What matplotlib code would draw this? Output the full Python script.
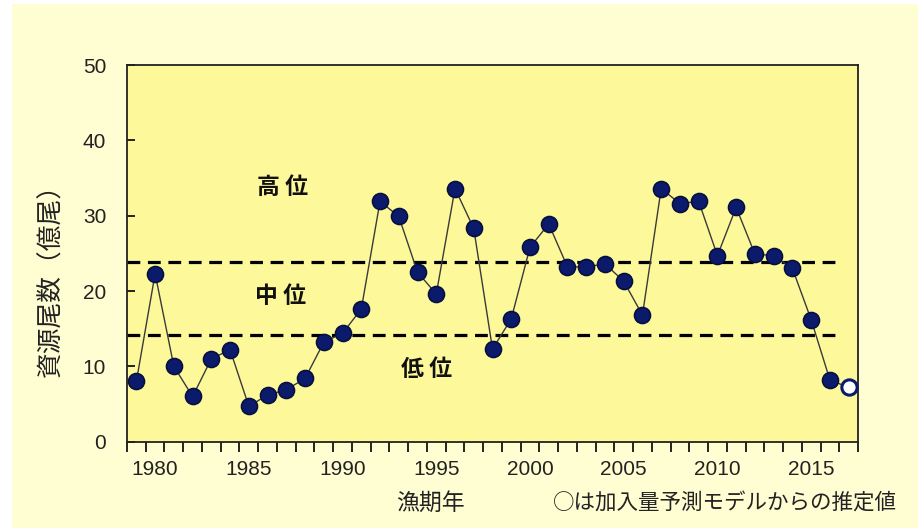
import numpy as np
import matplotlib
matplotlib.use("Agg")
import matplotlib.pyplot as plt
from matplotlib.patches import Rectangle

plt.rcParams['font.family'] = ['Liberation Sans Narrow', 'Liberation Sans',
                               'Noto Sans CJK JP', 'DejaVu Sans']

# 漁期年と資源尾数（億尾）
years = list(range(1979, 2018))
stock = [8.0, 22.3, 10.0, 6.0, 11.0, 12.2, 4.7, 6.2, 6.9, 8.4,
         13.2, 14.4, 17.6, 31.9, 29.9, 22.5, 19.6, 33.6, 28.3, 12.3,
         16.3, 25.8, 28.9, 23.2, 23.2, 23.6, 21.3, 16.8, 33.6, 31.6,
         31.9, 24.7, 31.1, 24.9, 24.7, 23.0, 16.2, 8.2, 7.2]
est_year = [2017]          # 加入量予測モデルからの推定値
est_value = [7.2]

high_mid = 23.8            # 高位/中位の境界
mid_low = 14.1             # 中位/低位の境界
level_names = ['高 位', '中 位', '低 位']
level_x = [1986.8, 1986.7, 1994.5]
level_y = [33.7, 19.3, 9.6]

xticks = [1980, 1985, 1990, 1995, 2000, 2005, 2010, 2015]
yticks = [0, 10, 20, 30, 40, 50]

fig = plt.figure(figsize=(9.18, 5.28), dpi=100, facecolor='white')
fig.patches.append(Rectangle((12/918, 0), 1, 1 - 4/528, transform=fig.transFigure,
                             facecolor='#FFFDD2', edgecolor='none', zorder=-10))

ax = fig.add_axes([127/918, 1 - 441.7/528, 731/918, 376.7/528])
ax.set_facecolor('#FDF89A')

xmin, xmax = years[0] - 0.5, years[-1] + 0.5
ax.set_xlim(xmin, xmax)
ax.set_ylim(0, 50)

# 境界の破線
for yv in [high_mid, mid_low]:
    ax.plot([xmin, 2016.3], [yv, yv], color='black', lw=2.3,
            dashes=(4, 2.4), zorder=2)

ax.plot(years, stock, color='#3a3a3a', lw=1.0, zorder=3)
ax.plot(years[:-1], stock[:-1], 'o', ms=11.5, mfc='#0B1A6B', mec='#06103F',
        mew=1.2, zorder=4)
ax.plot(est_year, est_value, 'o', ms=11, mfc='white', mec='#0B1A6B',
        mew=2.2, zorder=5)

for name, lx, ly in zip(level_names, level_x, level_y):
    ax.text(lx, ly, name, ha='center', va='center', fontsize=16.5,
            fontweight='bold', family=['Noto Sans CJK JP'], color='#111111')

# 軸と目盛り
for s in ax.spines.values():
    s.set_linewidth(1.3)
    s.set_color('#222222')
ax.set_yticks(yticks)
ax.tick_params(axis='y', direction='in', length=6, width=1.2, pad=15,
               labelsize=15, left=True, labelcolor='#222222')
ax.set_xticks(np.arange(xmin, xmax + 0.01, 1.0), minor=False)
ax.set_xticklabels([])
ax.tick_params(axis='x', which='major', direction='out', length=7, width=1.2)
ax.set_xticks(xticks, minor=True)
ax.set_xticklabels([str(x) for x in xticks], minor=True)
ax.tick_params(axis='x', which='minor', length=0, pad=13, labelsize=15,
               labelcolor='#222222')

fig.text(51/918, 1 - 274/528, '資源尾数（億尾）', rotation=90, ha='center',
         va='center', fontsize=18.5, family=['Noto Sans CJK JP'], color='#222222')
fig.text(430/918, 1 - 503/528, '漁期年', ha='center', va='center',
         fontsize=16.5, family=['Noto Sans CJK JP'], color='#222222')
fig.text(725/918, 1 - 503/528, '○は加入量予測モデルからの推定値', ha='center',
         va='center', fontsize=15.5, family=['Noto Sans CJK JP'], color='#222222')

fig.savefig('out.png', dpi=100, facecolor=fig.get_facecolor())
